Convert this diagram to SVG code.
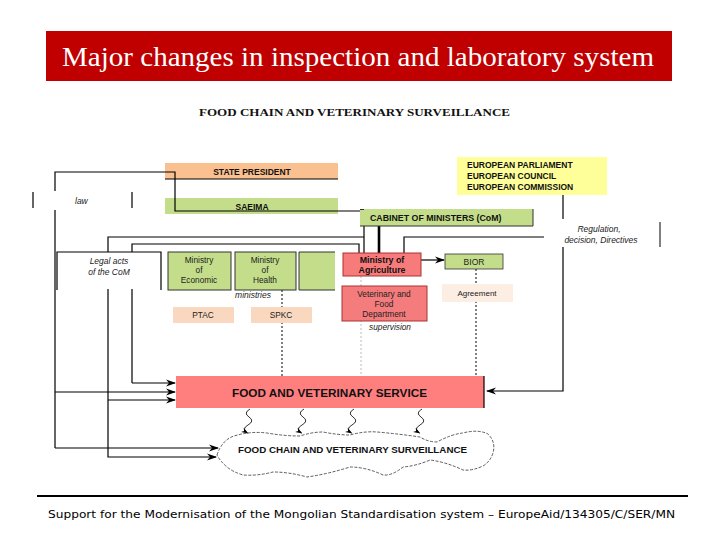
<svg xmlns="http://www.w3.org/2000/svg" width="720" height="540" viewBox="0 0 720 540">
<defs>
<marker id="ah" markerWidth="10" markerHeight="8" refX="9" refY="4" orient="auto" markerUnits="userSpaceOnUse">
<path d="M0,0.5 L10,4 L0,7.5 L3,4 z" fill="#000"/>
</marker>
<marker id="ahs" markerWidth="7" markerHeight="6" refX="6" refY="3" orient="auto" markerUnits="userSpaceOnUse">
<path d="M0,0.5 L7,3 L0,5.5 L2,3 z" fill="#000"/>
</marker>
<style>
.ln{fill:none;stroke:#000;stroke-width:1.2}
.b{font-family:"Liberation Sans","Open Sans",sans-serif;font-weight:bold;fill:#111}
.r{font-family:"Liberation Sans","Open Sans",sans-serif;fill:#222}
.i{font-family:"Liberation Sans","Open Sans",sans-serif;font-style:italic;fill:#222}
.grn{fill:#C4DD8A}
</style>
</defs>
<rect width="720" height="540" fill="#fff"/>
<g id="title">
<rect x="46" y="31" width="626" height="50" fill="#C00000"/>
<text x="62" y="66" font-family="Liberation Serif,serif" font-size="28" fill="#fff" textLength="592" lengthAdjust="spacingAndGlyphs">Major changes in inspection and laboratory system</text>
</g>
<g id="header">
<text x="199" y="116" font-family="Liberation Serif,serif" font-weight="bold" font-size="10.5" fill="#111" textLength="311" lengthAdjust="spacingAndGlyphs">FOOD CHAIN AND VETERINARY SURVEILLANCE</text>
</g>

<g id="connectors">
<path class="ln" d="M55,448 V172 H175 V211 H364 V253"/>
<path class="ln" d="M55,392 H175" marker-end="url(#ah)"/>
<path class="ln" d="M55,448 H218" marker-end="url(#ah)"/>
<path class="ln" d="M364,237 H108 V457 H216" marker-end="url(#ah)"/>
<path class="ln" d="M108,400 H175" marker-end="url(#ah)"/>
<path class="ln" d="M132,383 V244 H359 V253"/>
<path class="ln" d="M132,383 H175" marker-end="url(#ah)"/>
<path d="M379,226 V253" stroke="#000" stroke-width="2.6" fill="none"/>
<path class="ln" d="M545,237 H404 V253"/>
<path class="ln" d="M563,195 V391 H487" marker-end="url(#ah)"/>
<path class="ln" d="M421,260 H444" marker-end="url(#ah)"/>
<path d="M282,290 V376" stroke="#000" stroke-width="1" stroke-dasharray="2,2" fill="none"/>
<path d="M476,269 V376" stroke="#000" stroke-width="1" stroke-dasharray="2,2" fill="none"/>
<path d="M361,276 V376" stroke="#aaa" stroke-width="0.8" stroke-dasharray="2,2" fill="none"/>
<path d="M250,409 q-7,4 -1,8 q6,4 -1,8 q-7,4 -0.5,8" fill="none" stroke="#000" stroke-width="0.8" marker-end="url(#ahs)"/>
<path d="M304,409 q-7,4 -1,8 q6,4 -1,8 q-7,4 -0.5,8" fill="none" stroke="#000" stroke-width="0.8" marker-end="url(#ahs)"/>
<path d="M354,409 q-7,4 -1,8 q6,4 -1,8 q-7,4 -0.5,8" fill="none" stroke="#000" stroke-width="0.8" marker-end="url(#ahs)"/>
<path d="M422,409 q-7,4 -1,8 q6,4 -1,8 q-7,4 -0.5,8" fill="none" stroke="#000" stroke-width="0.8" marker-end="url(#ahs)"/>
</g>

<g id="law">
<rect x="34" y="191" width="97" height="19" fill="#fff"/>
<path d="M33,192 V208 M132,192 V208" stroke="#000" stroke-width="1.2"/>
<text class="i" x="75" y="204" font-size="8.5">law</text>
</g>
<g id="state-president">
<rect x="165" y="163" width="173" height="16" fill="#FAC08F"/>
<path d="M165,179 H338" stroke="#000" stroke-width="1"/>
<path d="M165,172 H175 V179" stroke="#000" stroke-width="1.2" fill="none"/>
<text class="b" x="252" y="175" font-size="8.5" text-anchor="middle">STATE PRESIDENT</text>
</g>
<g id="saeima">
<rect x="165" y="198" width="173" height="16" fill="#C4DD8A"/>
<path d="M175,198 V211 H338" stroke="#000" stroke-width="1.2" fill="none"/>
<text class="b" x="252" y="210" font-size="8.5" text-anchor="middle">SAEIMA</text>
</g>
<g id="eu">
<rect x="457" y="157" width="150" height="38" fill="#FFFF99"/>
<text class="b" x="467" y="168" font-size="8.5">EUROPEAN PARLIAMENT</text>
<text class="b" x="467" y="179" font-size="8.5">EUROPEAN COUNCIL</text>
<text class="b" x="467" y="190" font-size="8.5">EUROPEAN COMMISSION</text>
</g>
<g id="cabinet">
<rect x="360" y="209" width="173" height="17" fill="#C4DD8A"/>
<path d="M360,209.5 H364 M360,226 H533 V209" stroke="#333" stroke-width="1" fill="none"/>
<text class="b" x="370" y="221" font-size="8.8">CABINET OF MINISTERS (CoM)</text>
</g>
<g id="regulation">
<rect x="544" y="219" width="115" height="28" fill="#fff"/>
<path d="M660,222 V247" stroke="#000" stroke-width="1"/>
<text class="i" x="599" y="232" font-size="8.5" text-anchor="middle">Regulation,</text>
<text class="i" x="601" y="243" font-size="8.5" text-anchor="middle">decision, Directives</text>
</g>
<g id="legal-acts">
<rect x="57" y="252" width="104" height="37" fill="#fff"/>
<path d="M57,290 V252 H161 V290" stroke="#000" stroke-width="1.2" fill="none"/>
<text class="i" x="109" y="264" font-size="8.5" text-anchor="middle">Legal acts</text>
<text class="i" x="109" y="275" font-size="8.5" text-anchor="middle">of the CoM</text>
</g>
<g id="ministry-economic">
<rect x="168" y="252" width="63" height="38" class="grn" stroke="#333" stroke-width="1"/>
<text class="r" x="199" y="263" font-size="8.3" text-anchor="middle">Ministry</text>
<text class="r" x="199" y="273" font-size="8.3" text-anchor="middle">of</text>
<text class="r" x="199" y="283" font-size="8.3" text-anchor="middle">Economic</text>
</g>
<g id="ministry-health">
<rect x="235" y="252" width="61" height="38" class="grn" stroke="#333" stroke-width="1"/>
<text class="r" x="265" y="263" font-size="8.3" text-anchor="middle">Ministry</text>
<text class="r" x="265" y="273" font-size="8.3" text-anchor="middle">of</text>
<text class="r" x="265" y="283" font-size="8.3" text-anchor="middle">Health</text>
</g>
<g id="ministry-blank">
<rect x="299" y="252" width="36" height="38" class="grn"/>
<path d="M335,252 H299 V290 H335" stroke="#333" stroke-width="1" fill="none"/>
</g>
<g id="ministry-agriculture">
<rect x="343" y="253" width="78" height="23" fill="#F77B7B" stroke="#A33" stroke-width="1"/>
<text class="b" x="382" y="263" font-size="8.8" text-anchor="middle" fill="#222">Ministry of</text>
<text class="b" x="382" y="273" font-size="8.8" text-anchor="middle" fill="#222">Agriculture</text>
</g>
<g id="bior">
<rect x="445" y="254" width="58" height="15" class="grn" stroke="#333" stroke-width="0.8"/>
<text class="r" x="474" y="265" font-size="8.5" text-anchor="middle">BIOR</text>
</g>
<g id="ministries-label">
<text class="i" x="253" y="298" font-size="8.5" text-anchor="middle">ministries</text>
</g>
<g id="ptac">
<rect x="173" y="307" width="61" height="16" fill="#FAD8BF"/>
<text class="r" x="203" y="318" font-size="8.3" text-anchor="middle">PTAC</text>
</g>
<g id="spkc">
<rect x="251" y="307" width="61" height="16" fill="#FAD8BF"/>
<text class="r" x="281" y="318" font-size="8.3" text-anchor="middle">SPKC</text>
</g>
<g id="vet-department">
<rect x="342" y="286" width="85" height="35" fill="#F47C7C" stroke="#A33" stroke-width="1"/>
<text class="r" x="384" y="297" font-size="8.3" text-anchor="middle">Veterinary and</text>
<text class="r" x="384" y="307" font-size="8.3" text-anchor="middle">Food</text>
<text class="r" x="384" y="317" font-size="8.3" text-anchor="middle">Department</text>
</g>
<g id="supervision-label">
<text class="i" x="390" y="330" font-size="8.3" text-anchor="middle">supervision</text>
</g>
<g id="agreement">
<rect x="442" y="284" width="71" height="18" fill="#FDEEE4"/>
<text class="r" x="477" y="296" font-size="8" text-anchor="middle">Agreement</text>
</g>
<g id="fvs">
<rect x="176" y="376" width="308" height="32" fill="#FF7F7F"/>
<path d="M484,376 V408" stroke="#000" stroke-width="1.2"/>
<text class="b" x="232" y="397" font-size="11" textLength="195" lengthAdjust="spacingAndGlyphs">FOOD AND VETERINARY SERVICE</text>
</g>
<g id="surveillance-cloud">
<path d="M217,455 Q222,440 234,436 Q250,431 267,433 Q284,436 300,436 Q312,432 323,432 Q338,435 350,435 Q364,431 377,432 Q400,434 420,437 Q428,442 437,442 Q452,434 463,433 Q478,429 488,434 Q496,442 493,453 Q490,462 483,466 Q472,471 463,470 Q446,462 430,460 Q416,466 403,467 Q392,476 383,475 Q366,467 350,467 Q328,474 307,477 Q289,472 273,472 Q258,476 243,475 Q233,472 227,467 Q220,461 217,455 Z" fill="none" stroke="#333" stroke-width="0.8" stroke-dasharray="3,1.5"/>
<text class="b" x="238" y="453" font-size="8.5" textLength="229" lengthAdjust="spacingAndGlyphs">FOOD CHAIN AND VETERINARY SURVEILLANCE</text>
</g>
<g id="footer">
<path d="M37,496 H688" stroke="#000" stroke-width="2"/>
<text x="48" y="518" font-family="DejaVu Sans,sans-serif" font-size="11" fill="#000" textLength="627" lengthAdjust="spacingAndGlyphs">Support for the Modernisation of the Mongolian Standardisation system – EuropeAid/134305/C/SER/MN</text>
</g>
</svg>
